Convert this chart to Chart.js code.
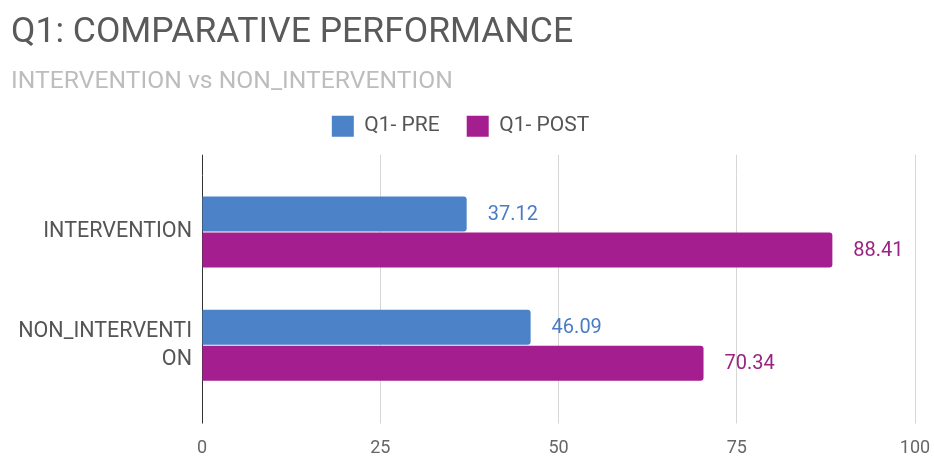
<!DOCTYPE html>
<html>
<head>
<meta charset="utf-8">
<script src="https://cdn.jsdelivr.net/npm/chart.js@4/dist/chart.umd.min.js"></script>
<style>
  html, body { margin: 0; padding: 0; background: #fff; }
  #wrap { width: 934px; height: 459px; }
</style>
</head>
<body>
<div id="wrap"><canvas id="chart"></canvas></div>
<script>
// data
const categories = ['INTERVENTION', ['NON_INTERVENTI', 'ON']];
const seriesNames = ['Q1- PRE', 'Q1- POST'];
const preValues = [37.12, 46.09];
const postValues = [88.41, 70.34];
const xTicks = [0, 25, 50, 75, 100];

const FONT = 'Roboto, "Noto Sans", sans-serif';

// value text at the end of each bar
const valueLabels = {
    id: 'valueLabels',
    afterDatasetsDraw(chart) {
        const ctx = chart.ctx;
        chart.data.datasets.forEach((ds, i) => {
            const meta = chart.getDatasetMeta(i);
            meta.data.forEach((bar, j) => {
                ctx.save();
                ctx.font = '20px ' + FONT;
                ctx.fillStyle = ds.labelColor;
                ctx.textBaseline = 'middle';
                ctx.textAlign = 'left';
                ctx.fillText(ds.data[j].toFixed(2), bar.x + 21, bar.y + 1);
                ctx.restore();
            });
        });
    }
};

// legend sits a touch left of centre in the original
const legendShift = {
    id: 'legendShift',
    afterLayout(chart) {
        const lg = chart.legend;
        if (!lg) return;
        lg.left -= 8;
        lg.right -= 8;
    }
};

function gridColor(c) {
    return c.tick && c.tick.value === 0 ? '#333333' : '#d6d6d6';
}

new Chart(document.getElementById('chart'), {
    type: 'bar',
    data: {
        labels: categories,
        datasets: [
            { label: seriesNames[0], data: preValues, backgroundColor: '#4b82c8', labelColor: '#4a7cc4',
              borderRadius: 3, categoryPercentage: 0.636, barPercentage: 0.97 },
            { label: seriesNames[1], data: postValues, backgroundColor: '#a41e8f', labelColor: '#9b2383',
              borderRadius: 3, categoryPercentage: 0.636, barPercentage: 0.97 }
        ]
    },
    options: {
        indexAxis: 'y',
        responsive: true,
        maintainAspectRatio: false,
        animation: false,
        layout: { padding: { left: 11, right: 8, top: 0, bottom: 0 } },
        plugins: {
            title: {
                display: true, text: 'Q1: COMPARATIVE PERFORMANCE', align: 'start', color: '#5a5a5a',
                font: { family: FONT, size: 35.5, weight: 'normal' }, padding: { top: 11.5, bottom: 13 }
            },
            subtitle: {
                display: true, text: 'INTERVENTION vs NON_INTERVENTION', align: 'start', color: '#bdbdbd',
                font: { family: FONT, size: 24.7, weight: 'normal' }, padding: { top: 0, bottom: -8 }
            },
            legend: {
                position: 'top', align: 'center',
                labels: { boxWidth: 22, boxHeight: 21, padding: 27, color: '#555',
                          font: { family: FONT, size: 21 } }
            },
            tooltip: { enabled: false }
        },
        scales: {
            x: {
                min: 0, max: 100,
                afterBuildTicks: s => { s.ticks = xTicks.map(v => ({ value: v })); },
                afterFit: s => { s.height = 57; s.paddingRight = 19; },
                grid: { color: gridColor, tickColor: gridColor, tickLength: 21.5 },
                border: { display: false },
                ticks: { color: '#666', padding: 14, font: { family: FONT, size: 18 } }
            },
            x2: {
                position: 'top', min: 0, max: 100,
                afterBuildTicks: s => { s.ticks = xTicks.map(v => ({ value: v })); },
                afterFit: s => { s.height = 28.5; },
                grid: { drawOnChartArea: false, color: gridColor, tickColor: gridColor, tickLength: 20.5 },
                border: { display: false },
                ticks: { display: false }
            },
            y: {
                afterFit: s => { s.width = 191; },
                grid: { display: false, drawTicks: false },
                border: { display: false },
                ticks: { color: '#555', padding: 10, font: { family: FONT, size: 21.5, lineHeight: 1.3 } }
            }
        }
    },
    plugins: [valueLabels, legendShift]
});
</script>
</body>
</html>
